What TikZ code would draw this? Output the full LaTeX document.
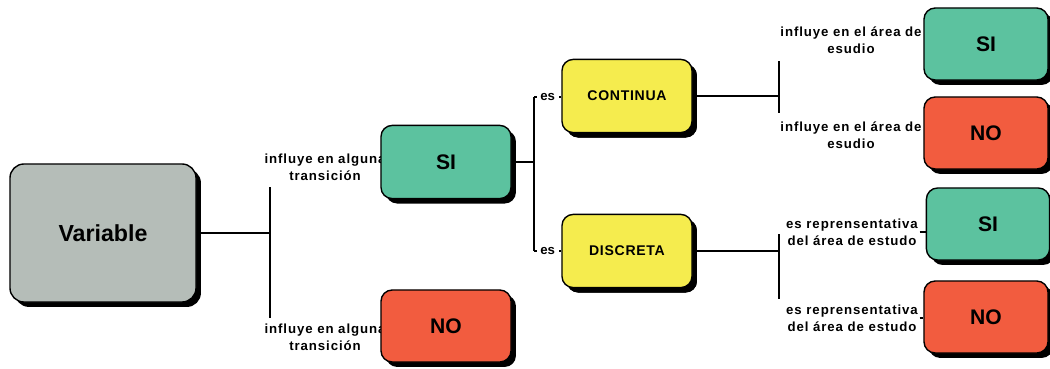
\documentclass[tikz,border=0pt]{standalone}
\usepackage{fontspec}
\setmainfont{Liberation Sans}
\usetikzlibrary{shadows}
\definecolor{boxgray}{HTML}{B5BDB8}
\definecolor{boxgreen}{HTML}{5CC29F}
\definecolor{boxred}{HTML}{F25C3F}
\definecolor{boxyellow}{HTML}{F5EC4E}
\begin{document}
\begin{tikzpicture}[x=0.025cm, y=-0.025cm,
		box/.style={rectangle, rounded corners=8pt, draw, line width=1pt, align=center, inner sep=0pt,
			font=\bfseries\fontsize{15}{18}\selectfont,
			drop shadow={shadow xshift=3.5pt, shadow yshift=-3.5pt, opacity=1, fill=black}},
		small/.style={box, minimum width=3.25cm, minimum height=1.8cm},
		mid/.style={box, font=\bfseries\fontsize{10}{12}\selectfont\addfontfeature{LetterSpace=5}},
		lbl/.style={align=center, inner sep=1pt, font=\bfseries\fontsize{9.4}{12}\selectfont\addfontfeature{LetterSpace=7}},
		conn/.style={line width=1.4pt}]
	\useasboundingbox (0,0) rectangle (1050,368);
	%Labels (under the boxes):
	\node[lbl] (l1) at (325, 167) {influye en alguna\\transición};
	\node[lbl] (l2) at (325, 337) {influye en alguna\\transición};
	\node[lbl] (l3) at (851, 40) {influye en el área de\\esudio};
	\node[lbl] (l4) at (851, 135) {influye en el área de\\esudio};
	\node[lbl] (l5) at (852, 232) {es reprensentativa\\del área de estudo};
	\node[lbl] (l6) at (852, 318) {es reprensentativa\\del área de estudo};
	%Nodes:
	\node[box, fill=boxgray, rounded corners=10pt, minimum width=4.65cm, minimum height=3.45cm, font=\bfseries\fontsize{16.5}{20}\selectfont] (var) at (103, 233) {Variable};
	\node[small, fill=boxgreen, minimum height=1.83cm] (si1) at (446, 162) {SI};
	\node[small, fill=boxred] (no1) at (446, 326) {NO};
	\node[small, mid, fill=boxyellow, minimum height=1.83cm] (cont) at (627, 96) {CONTINUA};
	\node[small, mid, fill=boxyellow, minimum height=1.83cm] (disc) at (627, 251) {DISCRETA};
	\node[small, fill=boxgreen, minimum width=3.1cm] (si2) at (986, 44) {SI};
	\node[small, fill=boxred, minimum width=3.1cm] (no2) at (986, 133) {NO};
	\node[small, fill=boxgreen, minimum width=3.08cm] (si3) at (988, 224) {SI};
	\node[small, fill=boxred, minimum width=3.1cm] (no3) at (986, 317) {NO};
	%Junctions:
	\coordinate (j1t) at (270, 187);
	\coordinate (j1b) at (270, 318);
	\coordinate (j2t) at (534, 97);
	\coordinate (j2b) at (534, 251);
	\coordinate (j3t) at (779, 61);
	\coordinate (j3b) at (779, 113);
	\coordinate (j4t) at (779, 234);
	\coordinate (j4b) at (779, 299);
	%Edges:
	\draw[conn] (var.east) -- (var.east -| j1t);
	\draw[conn] (j1t) -- (j1b);
	\draw[conn] (si1.east) -- (si1.east -| j2t);
	\draw[conn] (j2t) -- (j2b);
	\draw[conn] (j2t) -- (j2t -| cont.west) node[midway, fill=white, inner sep=2.5pt, font=\bfseries\fontsize{9.4}{10}\selectfont] {es};
	\draw[conn] (j2b) -- (j2b -| disc.west) node[midway, fill=white, inner sep=2.5pt, font=\bfseries\fontsize{9.4}{10}\selectfont] {es};
	\draw[conn] (cont.east) -- (cont.east -| j3t);
	\draw[conn] (j3t) -- (j3b);
	\draw[conn] (disc.east) -- (disc.east -| j4t);
	\draw[conn] (j4t) -- (j4b);
	\draw[line width=1pt] (l5.east) -- (l5.east -| si3.west);
	\draw[line width=1pt] (l6.east) -- (l6.east -| no3.west);
\end{tikzpicture}
\end{document}
